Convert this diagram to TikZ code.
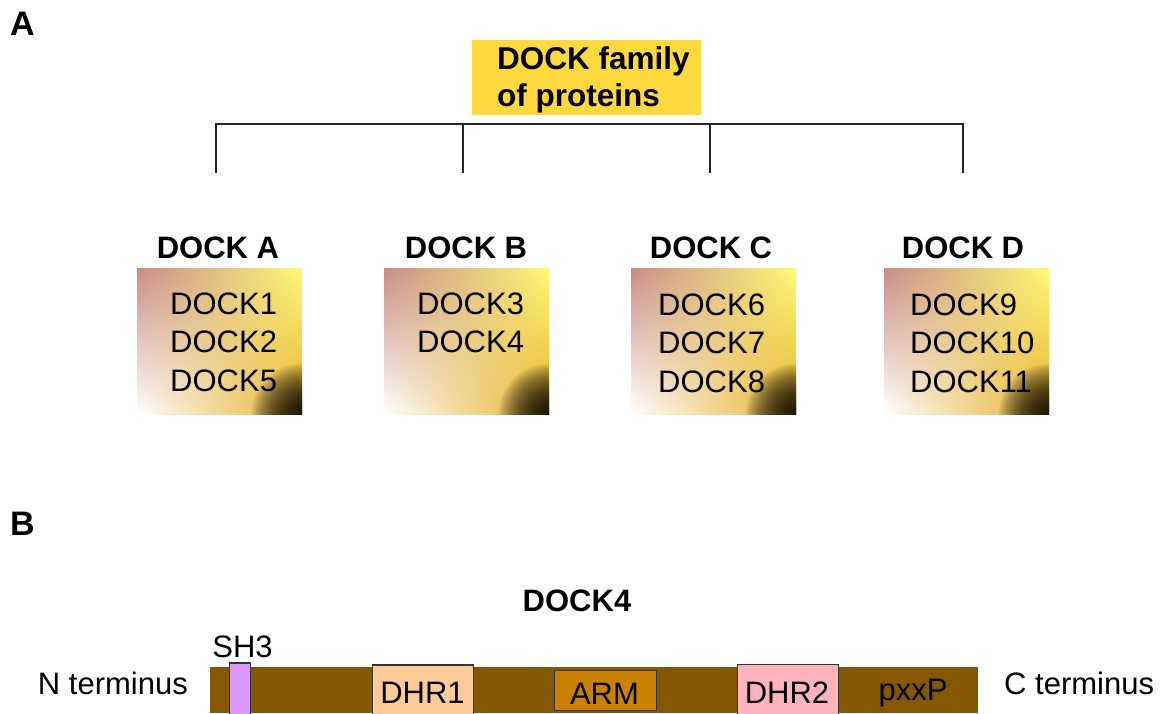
\documentclass[tikz,border=0pt]{standalone}
\usepackage{fontspec}
\setmainfont{Liberation Sans}
\usetikzlibrary{shadings}
\definecolor{famyel}{RGB}{255,217,61}
\definecolor{barbrown}{RGB}{132,87,0}
\definecolor{shviolet}{RGB}{221,153,255}
\definecolor{dhrone}{RGB}{255,204,153}
\definecolor{armcol}{RGB}{204,128,0}
\definecolor{dhrtwo}{RGB}{255,179,186}
\definecolor{gUL}{RGB}{200,140,135}
\definecolor{gUR}{RGB}{255,250,120}
\definecolor{gLL}{RGB}{255,255,255}
\definecolor{gLR}{RGB}{230,175,40}
\begin{document}
\begin{tikzpicture}[x=1pt,y=-1pt,
  txt/.style={inner sep=0pt, font=\fontsize{31}{37}\selectfont},
  btxt/.style={inner sep=0pt, font=\fontsize{31}{37}\selectfont\bfseries},
  panel/.style={inner sep=0pt, font=\fontsize{34}{40}\selectfont\bfseries},
  gbox/.style={draw=none, minimum width=165pt, minimum height=146pt, inner sep=0pt,
    upper left=gUL, upper right=gUR, lower left=gLL, lower right=gLR, shade,
    path picture={\foreach \r in {2,4,...,50} {\fill[black,fill opacity=0.07] (path picture bounding box.south east) circle (\r pt);}}},
  dom/.style={draw=black!80, line width=1.2pt, inner sep=0pt},
  tree/.style={draw=black!85, line width=1.3pt}
]
\useasboundingbox (0,0) rectangle (1172,713);

% panel labels
\node[panel, anchor=base west] (pA) at (10,35) {A};
\node[panel, anchor=base west] (pB) at (10,535) {B};

% root box
\node[fill=famyel, minimum width=229pt, minimum height=75pt, inner sep=0pt] (root) at (586.5,77.5) {};
\node[btxt, anchor=base west, font=\fontsize{31.5}{37}\selectfont\bfseries] (r1) at (497,69) {DOCK family};
\node[btxt, anchor=base west, font=\fontsize{31.5}{37}\selectfont\bfseries] (r2) at (497,106) {of proteins};

% bracket
\coordinate (ba) at (216,124);
\coordinate (bb) at (463,124);
\coordinate (bc) at (710,124);
\coordinate (bd) at (963,124);
\coordinate (ea) at (216,173);
\coordinate (eb) at (463,173);
\coordinate (ec) at (710,173);
\coordinate (ed) at (963,173);
\draw[tree] (ea) -- (ba) -- (bd) -- (ed);
\draw[tree] (bb) -- (eb);
\draw[tree] (bc) -- (ec);

% groups
\node[btxt, anchor=base] (gA) at (218,258) {DOCK A};
\node[btxt, anchor=base] (gB) at (466,258) {DOCK B};
\node[btxt, anchor=base] (gC) at (711,258) {DOCK C};
\node[btxt, anchor=base] (gD) at (963,258) {DOCK D};

\node[gbox] (boxA) at (219.5,341) {};
\node[gbox] (boxB) at (466.5,341) {};
\node[gbox] (boxC) at (713.5,341) {};
\node[gbox] (boxD) at (966.5,341) {};

\node[txt, anchor=base west] (a1) at (170,314) {DOCK1};
\node[txt, anchor=base west] (a2) at (170,352.5) {DOCK2};
\node[txt, anchor=base west] (a3) at (170,391) {DOCK5};
\node[txt, anchor=base west] (b1) at (417,314) {DOCK3};
\node[txt, anchor=base west] (b2) at (417,352.5) {DOCK4};
\node[txt, anchor=base west] (c1) at (658,315) {DOCK6};
\node[txt, anchor=base west] (c2) at (658,353.5) {DOCK7};
\node[txt, anchor=base west] (c3) at (658,392) {DOCK8};
\node[txt, anchor=base west] (d1) at (910,315) {DOCK9};
\node[txt, anchor=base west] (d2) at (910,353.5) {DOCK10};
\node[txt, anchor=base west] (d3) at (910,392) {DOCK11};

% part B
\node[btxt, anchor=base] (dock4) at (577,611) {DOCK4};
\fill[barbrown] (210,666.5) rectangle (977.5,713);
\node[dom, fill=shviolet, minimum width=21pt, minimum height=52pt] (sh3) at (239.8,689) {};
\node[txt, anchor=base] (sh3l) at (242.5,657) {SH3};
\node[dom, fill=dhrone, minimum width=101pt, minimum height=50pt, anchor=north west] (dhr1) at (372,664.3) {};
\node[txt, anchor=base] (dhr1l) at (422.5,703) {DHR1};
\node[dom, fill=armcol, minimum width=102pt, minimum height=40pt, anchor=north west] (arm) at (553.5,670) {};
\node[txt, anchor=base] (arml) at (604.5,704) {ARM};
\node[dom, fill=dhrtwo, minimum width=101pt, minimum height=50pt, anchor=north west] (dhr2) at (736.5,664) {};
\node[txt, anchor=base] (dhr2l) at (787,703) {DHR2};
\node[txt, anchor=base] (pxxp) at (913,700.5) {pxxP};
\node[txt, anchor=base east] (nterm) at (188,694) {N terminus};
\node[txt, anchor=base west] (cterm) at (1004,694) {C terminus};
\end{tikzpicture}
\end{document}
